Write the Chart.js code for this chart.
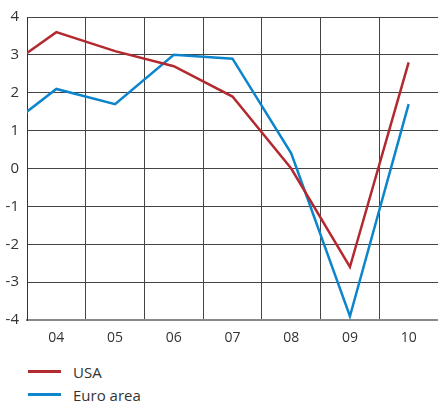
<!DOCTYPE html>
<html lang="en">
<head>
  <meta charset="UTF-8" />
  <title>GDP growth: USA and Euro area</title>
  <script src="https://cdn.jsdelivr.net/npm/chart.js"></script>
  <style>
    body {
      margin: 0;
      background: #fff;
      font-family: 'Open Sans', sans-serif;
      color: #333;
      overflow: hidden;
    }
    .wrap {
      position: relative;
      width: 438px;
      height: 350px;
    }
    .legend {
      margin: 10px 0 0 28px;
    }
    .legend-item {
      display: flex;
      align-items: center;
      height: 23px;
      font-size: 15px;
      line-height: 18px;
    }
    .legend-item span.swatch {
      display: inline-block;
      width: 33px;
      height: 3px;
      margin-right: 12px;
    }
  </style>
</head>
<body>
  <div class="wrap"><canvas id="chart"></canvas></div>
  <div class="legend" id="legend"></div>

  <script>
    // years, 2003 is only there so the lines run in from the left edge
    const years = [3, 4, 5, 6, 7, 8, 9, 10];
    const usa = [2.5, 3.6, 3.1, 2.7, 1.9, 0.0, -2.6, 2.8];
    const euroArea = [0.9, 2.1, 1.7, 3.0, 2.9, 0.4, -3.9, 1.7];
    const yTicks = [-4, -3, -2, -1, 0, 1, 2, 3, 4];
    const xLabels = [4, 5, 6, 7, 8, 9, 10];

    const seriesList = [
      { label: 'USA', values: usa, color: '#b22a2f' },
      { label: 'Euro area', values: euroArea, color: '#0c85cc' }
    ];

    const gridColor = '#444';

    const chart = new Chart(document.getElementById('chart'), {
      type: 'line',
      data: {
        datasets: seriesList.map(s => ({
          label: s.label,
          data: years.map((y, i) => ({ x: y, y: s.values[i] })),
          borderColor: s.color,
          backgroundColor: s.color,
          borderWidth: 2.5,
          pointRadius: 0,
          tension: 0,
          xAxisID: 'x',
          yAxisID: 'y'
        }))
      },
      options: {
        responsive: true,
        maintainAspectRatio: false,
        animation: false,
        layout: { padding: { top: 12, left: 0, right: 0, bottom: 0 } },
        plugins: {
          legend: { display: false },
          tooltip: { enabled: false }
        },
        scales: {
          x: {
            type: 'linear',
            position: 'bottom',
            min: 3.5,
            max: 10.5,
            afterBuildTicks: scale => {
              scale.ticks = xLabels.map(v => ({ value: v }));
            },
            afterFit: scale => { scale.height = 30; },
            grid: { display: false, drawTicks: false },
            border: { display: true, color: '#8a8a8a', width: 2 },
            ticks: {
              padding: 10,
              color: '#333',
              font: { family: 'Open Sans', size: 14 },
              maxRotation: 0,
              callback: v => String(v).padStart(2, '0')
            }
          },
          xg: {
            type: 'linear',
            position: 'bottom',
            min: 3.5,
            max: 10.5,
            afterBuildTicks: scale => {
              scale.ticks = [4.5, 5.5, 6.5, 7.5, 8.5, 9.5].map(v => ({ value: v }));
            },
            afterFit: scale => { scale.height = 0; },
            grid: { color: gridColor, lineWidth: 1, drawTicks: false },
            border: { display: false },
            ticks: { display: false }
          },
          y: {
            min: -4,
            max: 4,
            afterBuildTicks: scale => {
              scale.ticks = yTicks.map(v => ({ value: v }));
            },
            afterFit: scale => { scale.width = 27; },
            grid: {
              color: ctx => ctx.tick && ctx.tick.value === -4 ? 'rgba(0,0,0,0)' : gridColor,
              lineWidth: 1,
              drawTicks: false
            },
            border: { display: true, color: '#333', width: 1 },
            ticks: {
              padding: 8,
              color: '#333',
              font: { family: 'Open Sans', size: 15 }
            }
          }
        }
      }
    });

    const legend = document.getElementById('legend');
    seriesList.forEach(s => {
      const item = document.createElement('div');
      item.className = 'legend-item';
      item.innerHTML = `<span class="swatch" style="background:${s.color}"></span>${s.label}`;
      legend.appendChild(item);
    });
  </script>
</body>
</html>
